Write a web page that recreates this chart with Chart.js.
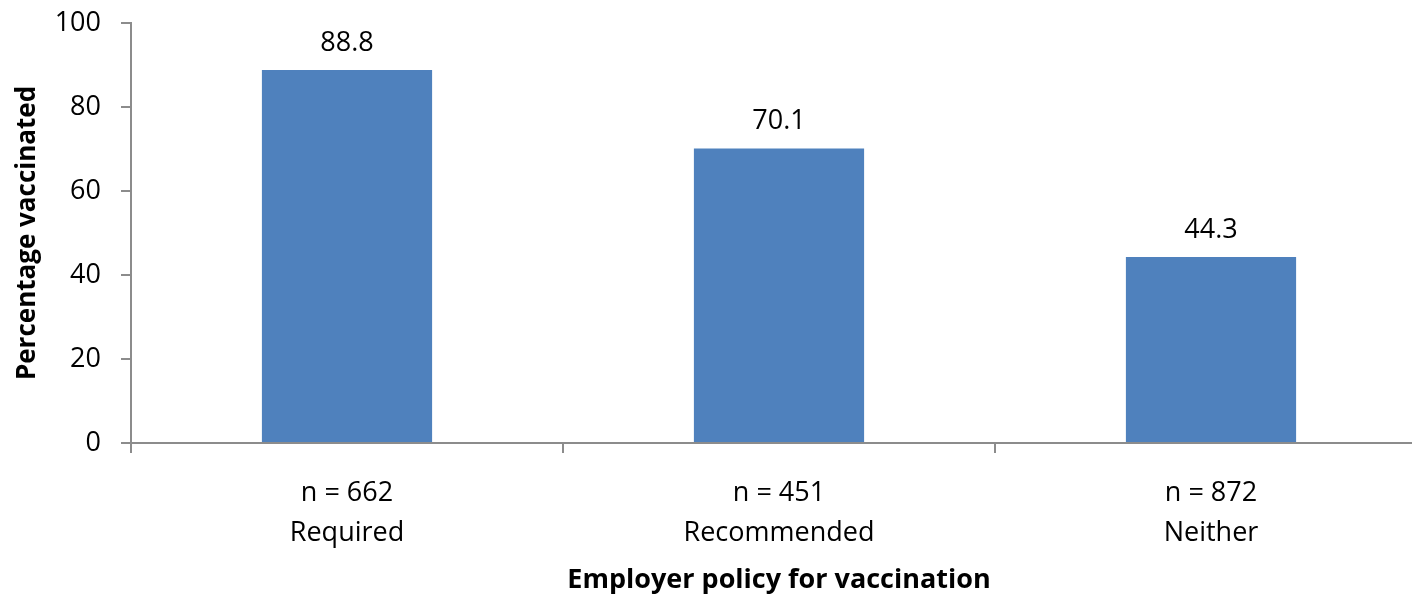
<!DOCTYPE html>
<html>
<head>
<meta charset="utf-8">
<script src="https://cdn.jsdelivr.net/npm/chart.js@4"></script>
<style>
  html, body { margin: 0; padding: 0; background: #fff; overflow: hidden; }
  /* the original crop cuts the plot a little past its right edge */
  #wrap { width: 1427px; height: 597px; }
</style>
</head>
<body>
<div id="wrap"><canvas id="vacc-bar"></canvas></div>
<script>
// data
let sampleSizes = ['n = 662', 'n = 451', 'n = 872'];
let policies = ['Required', 'Recommended', 'Neither'];
let percentVaccinated = [88.8, 70.1, 44.3];
let yTicks = [0, 20, 40, 60, 80, 100];

let labels = policies.map((p, i) => [sampleSizes[i], p]);
let fontName = "'Open Sans', sans-serif";
let axisGrey = '#8c8c8c';

// value labels above each bar
let barValues = {
    id: 'barValues',
    afterDatasetsDraw(chart) {
        let ctx = chart.ctx;
        let meta = chart.getDatasetMeta(0);
        ctx.save();
        ctx.font = '27px ' + fontName;
        ctx.fillStyle = '#000';
        ctx.textAlign = 'center';
        ctx.textBaseline = 'middle';
        meta.data.forEach((bar, i) => {
            ctx.fillText(percentVaccinated[i].toFixed(1), bar.x, bar.y - 27);
        });
        ctx.restore();
    }
};

let ctx = document.getElementById('vacc-bar').getContext('2d');
let myChart = new Chart(ctx, {
    type: 'bar',
    data: {
        labels: labels,
        datasets: [{
            data: percentVaccinated,
            backgroundColor: '#4f81bd',
            barPercentage: 0.394,
            categoryPercentage: 1.0
        }]
    },
    options: {
        responsive: true,
        maintainAspectRatio: false,
        animation: false,
        layout: { padding: { top: 23, right: 0, left: 0, bottom: 0 } },
        plugins: {
            legend: { display: false },
            tooltip: { enabled: false }
        },
        scales: {
            x: {
                grid: {
                    offset: true,
                    drawOnChartArea: false,
                    color: axisGrey,
                    lineWidth: 2,
                    tickLength: 10
                },
                border: { color: axisGrey, width: 2 },
                ticks: {
                    color: '#000',
                    padding: 20,
                    font: { family: fontName, size: 27, lineHeight: 1.48 }
                },
                title: {
                    display: true,
                    text: 'Employer policy for vaccination',
                    color: '#000',
                    padding: { top: 12, bottom: 0 },
                    font: { family: fontName, size: 27, weight: 'bold' }
                },
                afterFit: (scale) => { scale.height = 154; }
            },
            y: {
                min: 0,
                max: 100,
                afterBuildTicks: (scale) => { scale.ticks = yTicks.map(v => ({ value: v })); },
                grid: {
                    drawOnChartArea: false,
                    color: axisGrey,
                    lineWidth: 2,
                    tickLength: 10
                },
                border: { color: axisGrey, width: 2 },
                ticks: {
                    color: '#000',
                    padding: 20,
                    font: { family: fontName, size: 27 }
                },
                title: {
                    display: true,
                    text: 'Percentage vaccinated',
                    color: '#000',
                    padding: { top: 12, bottom: 0 },
                    font: { family: fontName, size: 26, weight: 'bold' }
                },
                afterFit: (scale) => {
                    scale.width = 131;
                    scale.paddingTop = 0;
                    scale.paddingBottom = 0;
                }
            }
        }
    },
    plugins: [barValues]
});
</script>
</body>
</html>
